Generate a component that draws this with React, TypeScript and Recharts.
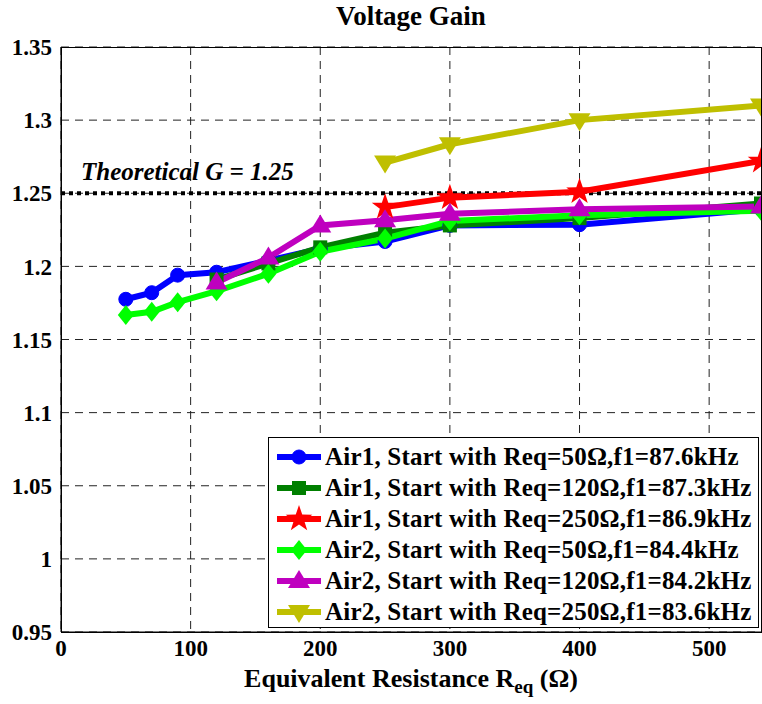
import React from "react";
import {
  LineChart,
  Line,
  XAxis,
  YAxis,
  CartesianGrid,
  ReferenceLine,
} from "recharts";

// Req (ohm) vs voltage gain
const air1Start50 = [
  { x: 50, y: 1.1775 },
  { x: 70, y: 1.182 },
  { x: 90, y: 1.194 },
  { x: 120, y: 1.196 },
  { x: 160, y: 1.204 },
  { x: 200, y: 1.212 },
  { x: 250, y: 1.217 },
  { x: 300, y: 1.228 },
  { x: 400, y: 1.2285 },
  { x: 540, y: 1.239 },
];
const air1Start120 = [
  { x: 120, y: 1.191 },
  { x: 160, y: 1.202 },
  { x: 200, y: 1.213 },
  { x: 250, y: 1.223 },
  { x: 300, y: 1.228 },
  { x: 400, y: 1.233 },
  { x: 540, y: 1.243 },
];
const air1Start250 = [
  { x: 250, y: 1.2405 },
  { x: 300, y: 1.247 },
  { x: 400, y: 1.251 },
  { x: 540, y: 1.272 },
];
const air2Start50 = [
  { x: 50, y: 1.1667 },
  { x: 70, y: 1.169 },
  { x: 90, y: 1.1755 },
  { x: 120, y: 1.183 },
  { x: 160, y: 1.195 },
  { x: 200, y: 1.21 },
  { x: 250, y: 1.219 },
  { x: 300, y: 1.231 },
  { x: 400, y: 1.235 },
  { x: 540, y: 1.238 },
];
const air2Start120 = [
  { x: 120, y: 1.189 },
  { x: 160, y: 1.206 },
  { x: 200, y: 1.228 },
  { x: 250, y: 1.2315 },
  { x: 300, y: 1.236 },
  { x: 400, y: 1.239 },
  { x: 540, y: 1.241 },
];
const air2Start250 = [
  { x: 250, y: 1.271 },
  { x: 300, y: 1.2835 },
  { x: 400, y: 1.3 },
  { x: 540, y: 1.31 },
];

const xTicks = [0, 100, 200, 300, 400, 500];
const yTicks = [0.95, 1, 1.05, 1.1, 1.15, 1.2, 1.25, 1.3, 1.35];
const theoreticalG = 1.25;

const FONT = "'Liberation Serif', 'DejaVu Serif', 'Noto Serif', serif";

type Shape = "circle" | "square" | "star" | "diamond" | "triUp" | "triDown";

function marker(shape: Shape, cx: number, cy: number, color: string, key?: string) {
  switch (shape) {
    case "circle":
      return <circle key={key} cx={cx} cy={cy} r={7} fill={color} stroke={color} />;
    case "square":
      return <rect key={key} x={cx - 7} y={cy - 7} width={14} height={14} fill={color} />;
    case "diamond":
      return (
        <polygon
          key={key}
          points={`${cx},${cy - 10} ${cx + 8},${cy} ${cx},${cy + 10} ${cx - 8},${cy}`}
          fill={color}
        />
      );
    case "triUp":
      return (
        <polygon
          key={key}
          points={`${cx},${cy - 11} ${cx + 11},${cy + 7} ${cx - 11},${cy + 7}`}
          fill={color}
        />
      );
    case "triDown":
      return (
        <polygon
          key={key}
          points={`${cx},${cy + 11} ${cx + 11},${cy - 7} ${cx - 11},${cy - 7}`}
          fill={color}
        />
      );
    case "star": {
      const pts: string[] = [];
      for (let i = 0; i < 10; i++) {
        const r = i % 2 === 0 ? 14 : 5.5;
        const a = -Math.PI / 2 + (i * Math.PI) / 5;
        pts.push(`${cx + r * Math.cos(a)},${cy + r * Math.sin(a)}`);
      }
      return <polygon key={key} points={pts.join(" ")} fill={color} />;
    }
  }
}

const series: { name: string; data: { x: number; y: number }[]; color: string; shape: Shape }[] = [
  { name: "Air1, Start with Req=50Ω,f1=87.6kHz", data: air1Start50, color: "#0000ff", shape: "circle" },
  { name: "Air1, Start with Req=120Ω,f1=87.3kHz", data: air1Start120, color: "#007f00", shape: "square" },
  { name: "Air1, Start with Req=250Ω,f1=86.9kHz", data: air1Start250, color: "#ff0000", shape: "star" },
  { name: "Air2, Start with Req=50Ω,f1=84.4kHz", data: air2Start50, color: "#00ff00", shape: "diamond" },
  { name: "Air2, Start with Req=120Ω,f1=84.2kHz", data: air2Start120, color: "#bf00bf", shape: "triUp" },
  { name: "Air2, Start with Req=250Ω,f1=83.6kHz", data: air2Start250, color: "#bfbf00", shape: "triDown" },
];

const tickStyle = { fontFamily: FONT, fontWeight: 700, fontSize: 23, fill: "#000" };

export default function App() {
  return (
    <div style={{ position: "absolute", left: 0, top: 0, width: 762, height: 704, background: "#fff", fontFamily: FONT }}>
      <div style={{ position: "absolute", left: 61, width: 700, top: 1, textAlign: "center", fontWeight: 700, fontSize: 27 }}>
        Voltage Gain
      </div>
      <LineChart width={762} height={704} margin={{ top: 47, right: 1, bottom: 0, left: 0 }}>
        <CartesianGrid stroke="#222" strokeDasharray="8 6" horizontalValues={yTicks} verticalValues={xTicks} />
        <XAxis
          type="number"
          dataKey="x"
          domain={[0, 540]}
          ticks={xTicks}
          allowDataOverflow
          height={72}
          tick={tickStyle}
          tickLine={false}
          axisLine={{ stroke: "#000" }}
          tickMargin={2}
        />
        <YAxis
          type="number"
          dataKey="y"
          domain={[0.95, 1.35]}
          ticks={yTicks}
          allowDataOverflow
          width={61}
          tick={tickStyle}
          tickLine={false}
          axisLine={{ stroke: "#000" }}
          tickFormatter={(v: number) => String(v)}
          tickMargin={3}
        />
        <ReferenceLine
          y={theoreticalG}
          stroke="#000"
          strokeWidth={4}
          strokeDasharray="4 4"
          label={(p: any) => (
            <text
              x={p.viewBox.x + 20}
              y={p.viewBox.y - 13}
              fontFamily={FONT}
              fontWeight={700}
              fontStyle="italic"
              fontSize={25}
              fill="#000"
            >
              Theoretical G = 1.25
            </text>
          )}
        />
        {series.map((s) => (
          <Line
            key={s.name}
            data={s.data}
            dataKey="y"
            name={s.name}
            stroke={s.color}
            strokeWidth={6}
            isAnimationActive={false}
            dot={(p: any) => marker(s.shape, p.cx, p.cy, s.color, `${s.name}-${p.index}`)}
            activeDot={false}
          />
        ))}
      </LineChart>
      <div style={{ position: "absolute", left: 61, top: 47, width: 699, height: 584, border: "1px solid #000", pointerEvents: "none" }} />
      <div
        style={{
          position: "absolute",
          left: 268,
          top: 437,
          width: 491,
          height: 191,
          border: "1px solid #000",
          background: "#fff",
          paddingTop: 3,
          boxSizing: "border-box",
        }}
      >
        {series.map((s) => (
          <div key={s.name} style={{ display: "flex", alignItems: "center", height: 31 }}>
            <svg width={56} height={30} style={{ flexShrink: 0 }}>
              <line x1={8} y1={15} x2={52} y2={15} stroke={s.color} strokeWidth={6} />
              {marker(s.shape, 30, 15, s.color)}
            </svg>
            <span style={{ fontWeight: 700, fontSize: 25, whiteSpace: "nowrap", letterSpacing: 0.2 }}>{s.name}</span>
          </div>
        ))}
      </div>
      <div
        style={{
          position: "absolute",
          left: 61,
          width: 700,
          top: 665,
          textAlign: "center",
          fontWeight: 700,
          fontSize: 26,
          lineHeight: "28px",
        }}
      >
        Equivalent Resistance R<sub style={{ fontSize: 19, lineHeight: 0 }}>eq</sub> (Ω)
      </div>
    </div>
  );
}
